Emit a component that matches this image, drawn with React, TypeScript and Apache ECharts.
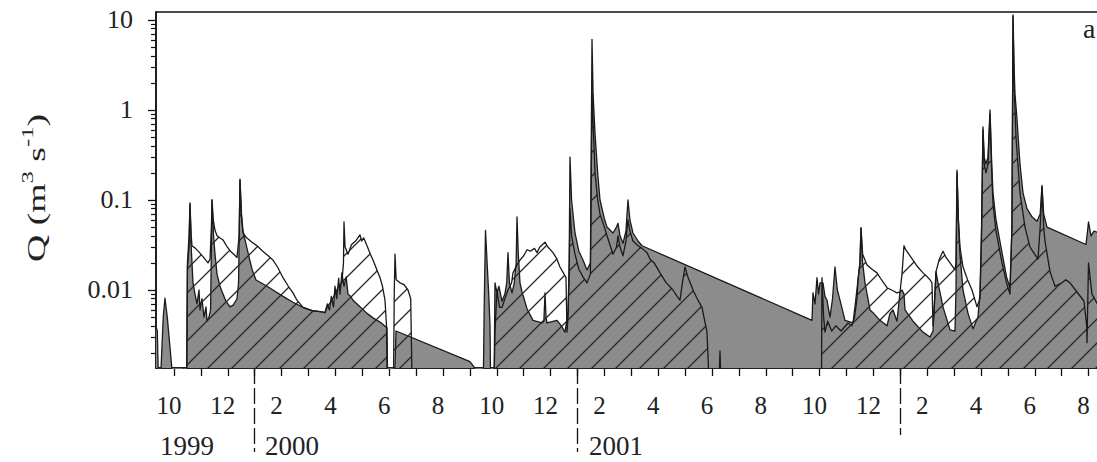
import React, { useEffect, useRef } from 'react';
import * as echarts from 'echarts';

// x: months since 1 Oct 1999 (fractional), y: discharge Q (m3 s-1)
const GRAY_SERIES: [number, number][] = [
  [-0.669, 0.0039], [-0.62, 0.0035], [-0.58, 0.001], [-0.5, 0.001], [-0.4, 0.005], [-0.335, 0.0081], [-0.25, 0.005], [-0.04, 0.001],
  [0.47, 0.001], [0.5, 0.018], [0.56, 0.03], [0.595, 0.093], [0.64, 0.03], [0.706, 0.012], [0.78, 0.009], [0.855, 0.007], [0.93, 0.01],
  [0.967, 0.006], [1.04, 0.008], [1.115, 0.005], [1.19, 0.0065], [1.227, 0.0045], [1.3, 0.005], [1.36, 0.006], [1.413, 0.1], [1.47, 0.04],
  [1.524, 0.025], [1.6, 0.015], [1.71, 0.011], [1.822, 0.009], [1.933, 0.0075], [2.082, 0.0065], [2.2, 0.0068], [2.342, 0.008], [2.4, 0.012],
  [2.454, 0.166], [2.51, 0.07], [2.565, 0.045], [2.751, 0.026], [2.9, 0.017], [3.048, 0.0129], [3.4, 0.0113], [3.68, 0.01], [4.052, 0.0085],
  [4.424, 0.0073], [4.796, 0.0064], [5.13, 0.0059], [5.502, 0.0057], [5.613, 0.0056], [5.7, 0.007], [5.78, 0.006], [5.85, 0.0085],
  [5.93, 0.0065], [5.985, 0.011], [6.05, 0.008], [6.12, 0.0135], [6.171, 0.009], [6.24, 0.0155], [6.32, 0.011], [6.4, 0.014], [6.468, 0.009],
  [6.56, 0.0085], [6.654, 0.0077], [6.914, 0.0065], [7.175, 0.0055], [7.398, 0.0049], [7.658, 0.0044], [7.918, 0.0038], [7.94, 0.001],
  [8.2, 0.001], [8.253, 0.0035], [11.004, 0.0016], [11.15, 0.0014], [11.301, 0.001],
  [11.5, 0.001], [11.53, 0.006], [11.58, 0.046], [11.64, 0.02], [11.7, 0.009], [11.747, 0.004], [11.77, 0.001], [11.9, 0.001], [11.933, 0.012],
  [12.007, 0.0093], [12.08, 0.011], [12.193, 0.0075], [12.3, 0.009], [12.37, 0.012], [12.416, 0.026], [12.47, 0.012], [12.565, 0.0093],
  [12.65, 0.012], [12.72, 0.02], [12.751, 0.065], [12.8, 0.025], [12.862, 0.012], [12.937, 0.0095], [13.04, 0.0075], [13.123, 0.0062],
  [13.346, 0.0046], [13.68, 0.0043], [13.75, 0.0045], [13.792, 0.0093], [13.83, 0.005], [13.866, 0.0043], [14.238, 0.0046], [14.4, 0.004],
  [14.535, 0.0034], [14.647, 0.0056], [14.69, 0.02], [14.721, 0.3], [14.78, 0.1], [14.907, 0.043], [15.05, 0.027], [15.204, 0.0215],
  [15.353, 0.0167], [15.48, 0.02], [15.539, 6.1], [15.58, 1.5], [15.651, 0.55], [15.75, 0.2], [15.836, 0.1], [16.0, 0.062], [16.097, 0.05],
  [16.32, 0.043], [16.45, 0.05], [16.506, 0.055], [16.58, 0.04], [16.691, 0.033], [16.8, 0.045], [16.877, 0.1], [16.95, 0.06], [17.063, 0.043],
  [17.25, 0.035], [17.398, 0.031], [23.717, 0.0046],
  [23.755, 0.0093], [23.83, 0.007], [23.903, 0.0137], [23.96, 0.009], [24.015, 0.012], [24.126, 0.012], [24.2, 0.0085], [24.275, 0.0077],
  [24.387, 0.005], [24.48, 0.008], [24.572, 0.018], [24.66, 0.01], [24.758, 0.0077], [24.944, 0.0046], [25.242, 0.0043], [25.35, 0.008],
  [25.428, 0.013], [25.5, 0.02], [25.539, 0.049], [25.6, 0.02], [25.688, 0.012], [25.874, 0.006], [25.985, 0.0056], [26.245, 0.0046],
  [26.506, 0.004], [26.617, 0.0055], [26.729, 0.006], [26.877, 0.0045], [26.989, 0.0095], [27.063, 0.01], [27.138, 0.009], [27.175, 0.006],
  [27.472, 0.0045], [27.844, 0.0034], [28.104, 0.003], [28.216, 0.0035], [28.327, 0.016], [28.401, 0.012], [28.587, 0.0065], [28.848, 0.0036],
  [29.033, 0.0035], [29.07, 0.01], [29.108, 0.215], [29.16, 0.06], [29.219, 0.025], [29.331, 0.01], [29.517, 0.0055], [29.703, 0.0037],
  [29.888, 0.005], [29.963, 0.0093], [30.02, 0.05], [30.074, 0.65], [30.12, 0.3], [30.186, 0.25], [30.26, 0.3], [30.335, 1.0], [30.4, 0.25],
  [30.446, 0.12], [30.558, 0.06], [30.781, 0.026], [30.95, 0.014], [31.078, 0.0106], [31.15, 0.05], [31.19, 11.4], [31.23, 3], [31.264, 1.5],
  [31.338, 0.8], [31.45, 0.25], [31.561, 0.12], [31.71, 0.08], [31.896, 0.065], [32.082, 0.058], [32.2, 0.07], [32.268, 0.145], [32.33, 0.07],
  [32.454, 0.05], [33.903, 0.032], [33.96, 0.045], [33.996, 0.057], [34.089, 0.04], [34.2, 0.045], [34.424, 0.043],
];

const HATCH_SERIES: [number, number][] = [
  [-0.669, 0.001], [0.47, 0.001], [0.5, 0.02], [0.56, 0.04], [0.595, 0.09], [0.64, 0.04], [0.669, 0.031], [0.8, 0.029], [0.95, 0.026],
  [1.1, 0.023], [1.264, 0.02], [1.34, 0.022], [1.39, 0.05], [1.413, 0.1], [1.46, 0.06], [1.524, 0.046], [1.6, 0.04], [1.7, 0.038],
  [1.822, 0.036], [1.95, 0.031], [2.1, 0.027], [2.342, 0.023], [2.42, 0.04], [2.454, 0.17], [2.5, 0.07], [2.565, 0.043], [2.7, 0.038],
  [2.9, 0.034], [3.086, 0.031], [3.3, 0.027], [3.5, 0.024], [3.68, 0.0215], [3.85, 0.018], [4.052, 0.0137], [4.25, 0.011], [4.424, 0.0093],
  [4.572, 0.0077], [4.796, 0.0064], [5.13, 0.0059], [5.502, 0.0057], [5.613, 0.0056], [5.7, 0.0065], [5.85, 0.0075], [5.985, 0.009],
  [6.12, 0.011], [6.24, 0.012], [6.3, 0.02], [6.32, 0.057], [6.36, 0.03], [6.468, 0.025], [6.6, 0.032], [6.75, 0.035], [6.914, 0.041],
  [6.98, 0.035], [7.05, 0.038], [7.175, 0.031], [7.3, 0.025], [7.398, 0.0215], [7.5, 0.018], [7.658, 0.0137], [7.75, 0.011], [7.844, 0.0077],
  [7.9, 0.004], [7.93, 0.001], [8.16, 0.001], [8.19, 0.01], [8.216, 0.025], [8.26, 0.013], [8.4, 0.012], [8.55, 0.0115], [8.699, 0.01],
  [8.8, 0.008], [8.848, 0.001],
  [11.9, 0.001], [11.933, 0.0034], [12.007, 0.01], [12.1, 0.0064], [12.193, 0.0064], [12.3, 0.008], [12.416, 0.01], [12.55, 0.012],
  [12.602, 0.0155], [12.75, 0.019], [12.862, 0.0215], [13.0, 0.024], [13.123, 0.028], [13.25, 0.027], [13.4, 0.029], [13.494, 0.026],
  [13.6, 0.03], [13.792, 0.034], [13.9, 0.03], [14.089, 0.026], [14.238, 0.022], [14.349, 0.018], [14.5, 0.015], [14.572, 0.0137],
  [14.61, 0.0034], [14.647, 0.005], [14.69, 0.015], [14.721, 0.08], [14.78, 0.04], [14.907, 0.025], [15.05, 0.017], [15.204, 0.014],
  [15.353, 0.012], [15.48, 0.015], [15.539, 1.5], [15.6, 0.5], [15.651, 0.2], [15.75, 0.1], [15.836, 0.07], [16.0, 0.05], [16.097, 0.04],
  [16.32, 0.025], [16.45, 0.03], [16.506, 0.04], [16.58, 0.03], [16.691, 0.024], [16.8, 0.035], [16.877, 0.06], [16.95, 0.045],
  [17.063, 0.035], [17.25, 0.031], [17.398, 0.029], [17.584, 0.026], [17.7, 0.022], [17.85, 0.02], [18.067, 0.0155], [18.3, 0.012],
  [18.55, 0.01], [18.7, 0.0085], [18.81, 0.0077], [18.9, 0.012], [18.996, 0.018], [19.1, 0.014], [19.294, 0.01], [19.45, 0.008],
  [19.628, 0.0064], [19.814, 0.0034], [19.888, 0.001], [20.26, 0.001], [20.297, 0.0021], [20.33, 0.001],
  [24.07, 0.001], [24.089, 0.0137], [24.15, 0.005], [24.201, 0.0034], [24.3, 0.0045], [24.45, 0.0035], [24.6, 0.004], [24.8, 0.0035],
  [25.056, 0.0043], [25.2, 0.004], [25.3, 0.005], [25.39, 0.008], [25.428, 0.0129], [25.5, 0.02], [25.539, 0.049], [25.6, 0.025],
  [25.762, 0.019], [25.95, 0.017], [26.134, 0.0155], [26.3, 0.013], [26.506, 0.0106], [26.729, 0.0098], [26.877, 0.0093], [26.989, 0.0095],
  [27.063, 0.015], [27.138, 0.031], [27.2, 0.028], [27.472, 0.0215], [27.65, 0.018], [27.844, 0.0155], [28.0, 0.014], [28.104, 0.013],
  [28.178, 0.012], [28.216, 0.004], [28.26, 0.006], [28.327, 0.016], [28.45, 0.022], [28.587, 0.027], [28.7, 0.023], [28.848, 0.02],
  [29.033, 0.0167], [29.07, 0.02], [29.108, 0.2], [29.16, 0.06], [29.219, 0.03], [29.331, 0.018], [29.5, 0.013], [29.665, 0.01],
  [29.851, 0.0065], [29.963, 0.008], [30.02, 0.04], [30.074, 0.6], [30.12, 0.25], [30.186, 0.2], [30.26, 0.25], [30.335, 0.9], [30.4, 0.2],
  [30.446, 0.09], [30.558, 0.045], [30.781, 0.02], [30.95, 0.012], [31.078, 0.009], [31.15, 0.05], [31.19, 11], [31.23, 2], [31.301, 0.5],
  [31.45, 0.12], [31.636, 0.05], [31.822, 0.03], [32.119, 0.022], [32.2, 0.05], [32.268, 0.14], [32.33, 0.05], [32.379, 0.035],
  [32.565, 0.016], [32.751, 0.011], [33.011, 0.012], [33.15, 0.013], [33.309, 0.012], [33.569, 0.0095], [33.829, 0.0075], [33.93, 0.004],
  [33.941, 0.0026], [33.996, 0.02], [34.126, 0.009], [34.424, 0.0062],
];

const MONTH_TICKS = Array.from({ length: 35 }, (_, i) => i);
const MONTH_LABEL_VALUES = [0, 2, 4, 6, 8, 10, 12, 14, 16, 18, 20, 22, 24, 26, 28, 30, 32, 34];
const MONTH_LABELS = ['10', '12', '2', '4', '6', '8', '10', '12', '2', '4', '6', '8', '10', '12', '2', '4', '6', '8'];
const YEAR_BOUNDARIES_LONG = [3, 15];
const YEAR_BOUNDARIES_SHORT = [27];
const YEAR_LABELS = ['1999', '2000', '2001'];
const YEAR_LABEL_VALUES = [0.48, 4.39, 16.43];
const Y_TICKS = [0.01, 0.1, 1, 10];
const Y_TICK_LABELS = ['0.01', '0.1', '1', '10'];
const Y_MINOR_MANTISSAS = [2, 3, 4, 5, 6, 7, 8, 9];
const Y_DECADES = [0.001, 0.01, 0.1, 1];

const X_MIN = -0.669;
const X_MAX = 34.424;
const Y_MIN = 0.001359;
const Y_MAX = 12.27;

const FONT = "'Liberation Serif', 'DejaVu Serif', serif";
const INK = '#111';

function pick(values: number[], labels: string[], v: number): string {
  let best = -1;
  let bd = Infinity;
  values.forEach((t, i) => {
    const d = Math.abs(t - v) / Math.max(Math.abs(t), 1e-9);
    if (d < bd) { bd = d; best = i; }
  });
  return best >= 0 && bd < 0.05 ? labels[best] : '';
}

export default function App() {
  const ref = useRef<HTMLDivElement>(null);
  useEffect(() => {
    if (!ref.current) return;
    const chart = echarts.init(ref.current, undefined, { renderer: 'svg' });
    const S = 24;
    const tile = `<svg xmlns='http://www.w3.org/2000/svg' width='${S}' height='${S}'><path d='M0,${S} L${S},0 M-6,6 L6,-6 M${S - 6},${S + 6} L${S + 6},${S - 6}' stroke='#262626' stroke-width='1.3' fill='none'/></svg>`;
    const hatch: any = {
      image: 'data:image/svg+xml;charset=utf-8,' + encodeURIComponent(tile),
      repeat: 'repeat',
      imageWidth: S,
      imageHeight: S,
    };
    const minor: number[] = [];
    Y_DECADES.forEach((d) => Y_MINOR_MANTISSAS.forEach((m) => minor.push(+(m * d).toPrecision(3))));

    const option: any = {
      animation: false,
      grid: {
        left: 156, top: 12, right: -3, bottom: 94, show: true,
        borderColor: INK, borderWidth: 1.5, backgroundColor: 'transparent',
        containLabel: false, outerBoundsMode: 'none',
      },
      xAxis: [
        {
          type: 'value', position: 'bottom', min: X_MIN, max: X_MAX,
          axisLine: { show: true, onZero: false, lineStyle: { color: INK, width: 1.5 } },
          axisTick: { show: true, customValues: MONTH_TICKS, length: 8, lineStyle: { color: INK, width: 1.3 } },
          axisLabel: {
            show: true, customValues: MONTH_LABEL_VALUES,
            formatter: (v: number) => pick(MONTH_LABEL_VALUES, MONTH_LABELS, v),
            margin: 25, fontSize: 25, fontFamily: FONT, color: '#222', padding: [0, 10, 0, 0],
          },
          splitLine: { show: false },
        },
        {
          type: 'value', position: 'top', offset: -356, min: X_MIN, max: X_MAX,
          axisLine: { show: false, onZero: false },
          axisTick: { show: true, inside: true, customValues: YEAR_BOUNDARIES_LONG, length: 84, lineStyle: { color: INK, width: 1.3, type: [16, 4] } },
          axisLabel: {
            show: true, inside: true, customValues: YEAR_LABEL_VALUES,
            formatter: (v: number) => pick(YEAR_LABEL_VALUES, YEAR_LABELS, v),
            margin: 64, fontSize: 27, fontFamily: FONT, color: '#222',
          },
          splitLine: { show: false },
        },
        {
          type: 'value', position: 'top', offset: -356, min: X_MIN, max: X_MAX,
          axisLine: { show: false, onZero: false },
          axisTick: { show: true, inside: true, customValues: YEAR_BOUNDARIES_SHORT, length: 67, lineStyle: { color: INK, width: 1.3, type: [16, 4] } },
          axisLabel: { show: false },
          splitLine: { show: false },
        },
      ],
      yAxis: [
        {
          type: 'log', logBase: 10, min: Y_MIN, max: Y_MAX, position: 'left',
          axisLine: { show: true, onZero: false, lineStyle: { color: INK, width: 1.5 } },
          axisTick: { show: true, customValues: Y_TICKS, length: 8, lineStyle: { color: INK, width: 1.3 } },
          axisLabel: {
            show: true, customValues: Y_TICKS,
            formatter: (v: number) => pick(Y_TICKS, Y_TICK_LABELS, v),
            margin: 23, fontSize: 26, fontFamily: FONT, color: '#222',
          },
          splitLine: { show: false },
          minorTick: { show: false },
        },
        {
          type: 'log', logBase: 10, min: Y_MIN, max: Y_MAX, position: 'left',
          axisLine: { show: false, onZero: false },
          axisTick: { show: true, customValues: minor, length: 5, lineStyle: { color: INK, width: 1.2 } },
          axisLabel: { show: false },
          splitLine: { show: false },
        },
      ],
      series: [
        {
          type: 'line', name: 'gray', xAxisIndex: 0, yAxisIndex: 0, data: GRAY_SERIES,
          showSymbol: false, symbol: 'none', clip: true, silent: true, z: 2,
          lineStyle: { color: '#1a1a1a', width: 1.3, join: 'round' },
          areaStyle: { color: '#8c8c8c', opacity: 1, origin: 'start' },
        },
        {
          type: 'line', name: 'hatched', xAxisIndex: 0, yAxisIndex: 0, data: HATCH_SERIES,
          showSymbol: false, symbol: 'none', clip: true, silent: true, z: 3,
          lineStyle: { color: '#1a1a1a', width: 1.3, join: 'round' },
          areaStyle: { color: hatch, opacity: 1, origin: 'start' },
        },
      ],
      graphic: [
        {
          type: 'text', x: 36, y: 188, rotation: Math.PI / 2, scaleX: 1.45,
          style: {
            text: '{n|Q (m}{s|3}{n| s}{s|-1}{n|)}',
            align: 'center', verticalAlign: 'middle', fill: '#222',
            fontFamily: FONT, fontSize: 26, fontWeight: 'normal',
            rich: {
              n: { fontSize: 26, fontFamily: FONT, fontWeight: 'normal', fill: '#222', lineHeight: 34 },
              s: { fontSize: 17, fontFamily: FONT, fontWeight: 'normal', fill: '#222', verticalAlign: 'top', lineHeight: 34 },
            },
          },
        },
        {
          type: 'text', x: 1083, y: 28,
          style: { text: 'a', align: 'left', verticalAlign: 'middle', fill: '#222', fontFamily: FONT, fontSize: 28 },
        },
      ],
    };
    chart.setOption(option);
    return () => chart.dispose();
  }, []);
  return (
    <div
      ref={ref}
      style={{ position: 'fixed', left: 0, top: 0, width: 1097, height: 462, background: '#fff' }}
    />
  );
}
